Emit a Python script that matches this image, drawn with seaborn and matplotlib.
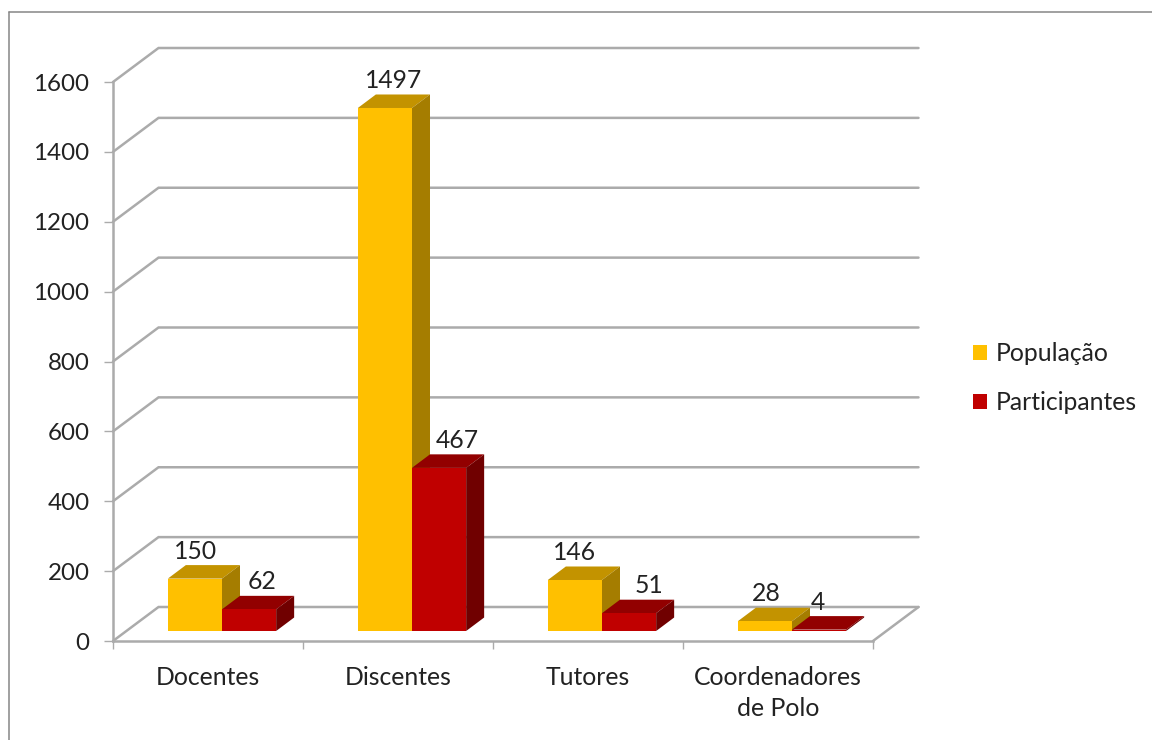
import matplotlib
matplotlib.use("Agg")
import matplotlib.pyplot as plt
import seaborn as sns
import pandas as pd
from matplotlib.lines import Line2D
from matplotlib.patches import Patch, Polygon

categories = ["Docentes", "Discentes", "Tutores", "Coordenadores\nde Polo"]
populacao = [150, 1497, 146, 28]
participantes = [62, 467, 51, 4]
series_names = ["População", "Participantes"]
y_ticks = [0, 200, 400, 600, 800, 1000, 1200, 1400, 1600]

# styling
W, H = 1152, 740
FRONT = {"População": "#FFC000", "Participantes": "#C00000"}
TOP = {"População": "#C39300", "Participantes": "#920000"}
SIDE = {"População": "#A57D00", "Participantes": "#700000"}
GRID = "#ABABAB"
TXT = "#222222"
FS = 17.8
# pixel nudges of value labels (series order, category order)
nudge = {"População": [1, 9, 0, 1], "Participantes": [13, 18, 20, -1]}

sns.set_theme(style="white")
plt.rcParams["font.family"] = ["Lato", "DejaVu Sans"]

df = pd.DataFrame({
    "categoria": categories * 2,
    "serie": [series_names[0]] * 4 + [series_names[1]] * 4,
    "valor": populacao + participantes,
})

fig = plt.figure(figsize=(W / 100, H / 100), dpi=100, facecolor="white")


def axes_px(left, right, top, bottom):
    return fig.add_axes([left / W, (H - bottom) / H, (right - left) / W, (bottom - top) / H])


# frame of the chart area (runs off the picture on the right and bottom)
fig.add_artist(Line2D([8.5 / W, 8.5 / W], [0, 1 - 12 / H], color="#868686", lw=1.1))
fig.add_artist(Line2D([8.5 / W, 1], [1 - 12 / H, 1 - 12 / H], color="#868686", lw=1.1))

ax = axes_px(113, 873, 82, 641)
ax.set_xlim(-0.5, 3.5)
ax.set_ylim(0, 1600)
ax.patch.set_alpha(0)

px_x = 4 / 760      # data units per pixel
px_y = 1600 / 559
wall_dx, wall_dy = 45.5 * px_x, 34 * px_y

# walls and floor
for t in y_ticks:
    ax.plot([-0.5, -0.5 + wall_dx, 3.5 + wall_dx], [t, t + wall_dy, t + wall_dy],
            color=GRID, lw=1.8, clip_on=False, zorder=1, solid_joinstyle="miter")
ax.plot([3.5, 3.5 + wall_dx], [0, wall_dy], color=GRID, lw=1.8, clip_on=False, zorder=1)

for s in ["top", "right"]:
    ax.spines[s].set_visible(False)
for s in ["left", "bottom"]:
    ax.spines[s].set_color(GRID)
    ax.spines[s].set_linewidth(1.8)
ax.set_yticks(y_ticks)
ax.set_xticks([-0.5, 0.5, 1.5, 2.5, 3.5])
ax.set_xticklabels([])
ax.set_xticks([0, 1, 2, 3], minor=True)
ax.set_xticklabels(categories, minor=True, fontsize=FS, color=TXT, linespacing=1.42)
ax.tick_params(axis="y", length=6.5, width=1, color=GRID, pad=10.5, labelsize=17.4, labelcolor=TXT, left=True)
ax.tick_params(axis="x", which="major", length=6, width=1, color=GRID, bottom=True)
ax.tick_params(axis="x", which="minor", length=0, pad=18, bottom=False)

# bars, set a little way into the depth of the floor
bx = axes_px(113 + 14, 873 + 14, 82 - 10, 641 - 10)
bx.patch.set_alpha(0)
sns.barplot(data=df, x="categoria", y="valor", hue="serie", hue_order=series_names,
            palette=FRONT, width=0.57, gap=0, dodge=True, saturation=1,
            legend=False, ax=bx, order=categories)
bx.set_xlim(-0.5, 3.5)
bx.set_ylim(0, 1600)
bx.axis("off")

bar_dx, bar_dy = 18 * px_x, 13.5 * px_y
values = {series_names[0]: populacao, series_names[1]: participantes}
for k, name in enumerate(series_names):
    cont = bx.containers[k]
    for i, rect in enumerate(cont):
        x0, w, h = rect.get_x(), rect.get_width(), rect.get_height()
        rect.set_edgecolor("none")
        rect.set_zorder(5 + 3 * k + 2)
        bx.add_patch(Polygon([(x0, h), (x0 + w, h), (x0 + w + bar_dx, h + bar_dy), (x0 + bar_dx, h + bar_dy)],
                             closed=True, fc=TOP[name], ec="none", zorder=5 + 3 * k, clip_on=False))
        bx.add_patch(Polygon([(x0 + w, 0), (x0 + w + bar_dx, bar_dy), (x0 + w + bar_dx, h + bar_dy), (x0 + w, h)],
                             closed=True, fc=SIDE[name], ec="none", zorder=5 + 3 * k, clip_on=False))
        bx.annotate(str(values[name][i]), xy=(x0 + w / 2, h), xycoords="data",
                    xytext=(nudge[name][i] * 0.72, 27.5 * 0.72), textcoords="offset points",
                    ha="center", va="center", fontsize=FS, color=TXT, zorder=20, annotation_clip=False)

handles = [Patch(fc=FRONT[n], ec="none", label=n) for n in series_names]
fig.legend(handles=handles, loc="center left", bbox_to_anchor=(973 / W, 1 - 378 / H),
           frameon=False, fontsize=FS, labelcolor=TXT, handlelength=0.56, handleheight=0.56,
           handletextpad=0.37, labelspacing=1.06, borderpad=0, borderaxespad=0)

fig.savefig("out.png", dpi=100, facecolor="white")
